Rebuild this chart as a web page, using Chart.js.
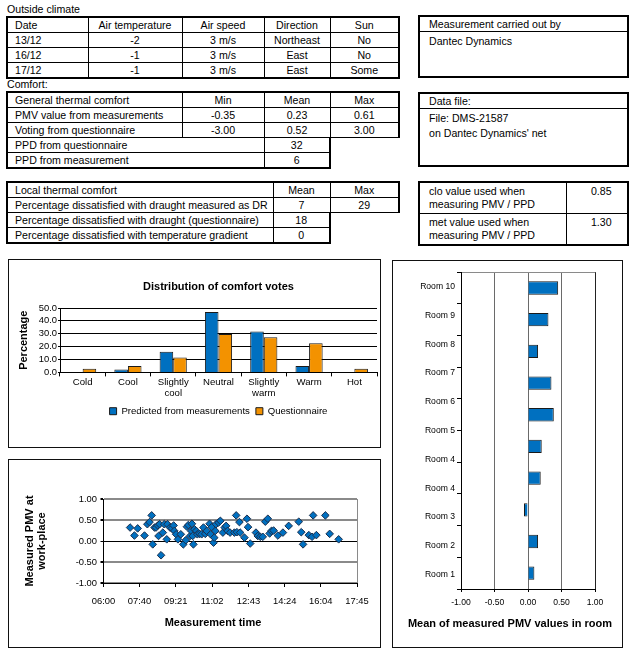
<!DOCTYPE html>
<html>
<head>
<meta charset="utf-8">
<script src="https://cdn.jsdelivr.net/npm/chart.js@4/dist/chart.umd.min.js"></script>
<style>
body{margin:0;width:631px;height:653px;position:relative;background:#fff;font-family:"Liberation Sans",Arial,sans-serif;font-size:10.6px;color:#000;overflow:hidden}
.lbl{position:absolute;left:7px;line-height:13px}
table{position:absolute;border-collapse:collapse;table-layout:fixed}
td{border:1px solid #000;height:14px;padding:0 0 0 7px;line-height:14px;white-space:nowrap;overflow:hidden}
td.c{text-align:center;padding:0}
tr:first-child td{border-top-width:2px}
tr:last-child td{border-bottom-width:2px}
td:first-child{border-left-width:2px}
td:last-child{border-right-width:2px}
.box{position:absolute;left:418px;width:211px;border:2px solid #000;box-sizing:border-box}
.box .hd{height:14px;line-height:14px;border-bottom:1px solid #000;padding-left:9px}
.box .bd{padding:2px 0 0 9px;line-height:15px}
.side td{vertical-align:top;line-height:12.5px;height:28px;padding:2px 0 0 9px}
.chart{position:absolute;border:1px solid #111}
canvas{display:block}
</style>
</head>
<body>
<div class="lbl" style="top:3px">Outside climate</div>
<div class="lbl" style="top:78px">Comfort:</div>
<div id="tables"></div>

<div class="box" style="top:15px;height:63px"><div class="hd">Measurement carried out by</div><div class="bd">Dantec Dynamics</div></div>
<div class="box" style="top:92px;height:75px"><div class="hd">Data file:</div><div class="bd">File: DMS-21587<br>on Dantec Dynamics' net</div></div>

<div class="chart" style="left:8px;top:259px;width:371px;height:187px"><canvas id="votes" width="371" height="187"></canvas></div>
<div class="chart" style="left:8px;top:459px;width:371px;height:187px"><canvas id="pmvTime" width="371" height="187"></canvas></div>
<div class="chart" style="left:392px;top:260px;width:229px;height:386px"><canvas id="rooms" width="229" height="386"></canvas></div>

<script>
// ---- tables ----
const climateRows = [
    ['Date', 'Air temperature', 'Air speed', 'Direction', 'Sun'],
    ['13/12', '-2', '3 m/s', 'Northeast', 'No'],
    ['16/12', '-1', '3 m/s', 'East', 'No'],
    ['17/12', '-1', '3 m/s', 'East', 'Some'],
];
const comfortRows = [
    ['General thermal comfort', 'Min', 'Mean', 'Max'],
    ['PMV value from measurements', '-0.35', '0.23', '0.61'],
    ['Voting from questionnaire', '-3.00', '0.52', '3.00'],
    [['PPD from questionnaire', 2], '32'],
    [['PPD from measurement', 2], '6'],
];
const localRows = [
    ['Local thermal comfort', 'Mean', 'Max'],
    ['Percentage dissatisfied with draught measured as DR', '7', '29'],
    ['Percentage dissatisfied with draught (questionnaire)', '18'],
    ['Percentage dissatisfied with temperature gradient', '0'],
];
const cloMetRows = [
    ['clo value used when<br>measuring PMV / PPD', '0.85'],
    ['met value used when<br>measuring PMV / PPD', '1.30'],
];

// ---- chart data ----
const voteCategories = ['Cold', 'Cool', ['Slightly', 'cool'], 'Neutral', ['Slightly', 'warm'], 'Warm', 'Hot'];
const predictedPct = [0, 2.3, 16.1, 46.9, 31.8, 4.9, 0];
const questionnairePct = [2.9, 4.9, 11.5, 29.9, 27.3, 22.7, 2.9];

const measureTimes = ['07:14','07:26','07:35','07:54','08:02','08:08','08:14','08:17','08:22','08:26',
    '08:31','08:33','08:36','08:40','08:45','08:49','08:56','08:58','09:05','09:10',
    '09:15','09:17','09:22','09:27','09:35','09:42','09:49','09:52','09:56','10:01',
    '10:04','10:06','10:08','10:10','10:13','10:18','10:21','10:27','10:33','10:38',
    '10:43','10:47','10:55','10:58','11:01','11:06','11:08','11:11','11:13','11:20',
    '11:25','11:32','11:37','11:41','11:45','11:52','12:04','12:09','12:11','12:18',
    '12:20','12:32','12:39','12:42','12:48','13:04','13:09','13:16','13:23','13:30',
    '13:37','13:42','13:47','13:53','14:05','14:19','14:35','15:03','15:10','15:15',
    '15:31','15:40','15:43','15:52','16:17','16:29','16:54'];
const measuredPMV = [0.32,0.13,0.30,0.13,0.40,0.45,0.61,-0.08,0.32,0.32,
    0.37,0.12,0.40,-0.34,0.20,0.40,0.04,0.40,0.32,0.30,
    0.37,0.24,0.16,0.04,0.16,-0.08,0.02,0.34,0.38,0.12,
    0.24,0.41,0.12,-0.08,0.28,0.24,0.16,0.17,0.16,0.32,
    0.17,0.24,0.41,0.16,0.33,-0.04,0.08,0.24,0.40,0.44,
    0.48,0.20,0.32,0.36,0.24,0.20,0.20,0.61,0.21,0.45,
    0.20,0.08,0.53,0.33,-0.06,0.20,0.12,0.10,0.10,0.46,
    0.53,0.18,0.24,0.25,0.13,0.20,0.36,0.46,0.21,-0.08,
    0.14,0.10,0.61,0.14,0.61,0.17,0.04];
const timeTicks = ['06:00', '07:40', '09:21', '11:02', '12:43', '14:24', '16:04', '17:45'];

const roomTickLabels = ['Room 10', 'Room 9', 'Room 8', 'Room 7', 'Room 6', 'Room 5', 'Room 4', 'Room 4', 'Room 3', 'Room 2', 'Room 1'];
const roomBars = ['Room 10', 'Room 9', 'Room 8', 'Room 7', 'Room 6', 'Room 5', 'Room 4', 'Room 3', 'Room 2', 'Room 1'];
const roomMeanPMV = [0.45, 0.305, 0.15, 0.35, 0.385, 0.205, 0.19, -0.06, 0.15, 0.095];
const pmvTicks = ['-1.00', '-0.50', '0.00', '0.50', '1.00'];

const BLUE = '#0070C0';
const ORANGE = '#F39200';

function makeTable(left, top, widths, rows, cls) {
    let html = '<table class="' + (cls || '') + '" style="left:' + left + 'px;top:' + top + 'px"><colgroup>';
    widths.forEach((w) => { html += '<col style="width:' + w + 'px">'; });
    html += '</colgroup>';
    rows.forEach((r) => {
        html += '<tr>';
        r.forEach((cell, i) => {
            let span = 1, text = cell;
            if (Array.isArray(cell)) { text = cell[0]; span = cell[1]; }
            html += '<td' + (span > 1 ? ' colspan="' + span + '"' : '') + (i > 0 ? ' class="c"' : '') + '>' + text + '</td>';
        });
        html += '</tr>';
    });
    return html + '</table>';
}

document.getElementById('tables').innerHTML =
    makeTable(6, 16, [81, 94, 82, 66, 69], climateRows) +
    makeTable(6, 91, [175, 82, 66, 69], comfortRows) +
    makeTable(6, 181, [266, 57, 69], localRows) +
    makeTable(418, 181, [147, 62], cloMetRows, 'side');

Chart.defaults.font.family = '"Liberation Sans", Arial, sans-serif';
Chart.defaults.color = '#000';
Chart.defaults.animation = false;

const toMin = (t) => { const p = t.split(':'); return +p[0] * 60 + +p[1]; };

// ---- distribution of comfort votes ----
new Chart(document.getElementById('votes'), {
    type: 'bar',
    data: {
        labels: voteCategories,
        datasets: [
            { label: 'Predicted from measurements', data: predictedPct, backgroundColor: BLUE, borderColor: '#1a1a1a', borderWidth: 1 },
            { label: 'Questionnaire', data: questionnairePct, backgroundColor: ORANGE, borderColor: '#1a1a1a', borderWidth: 1 },
        ],
    },
    options: {
        responsive: false,
        categoryPercentage: 0.6,
        barPercentage: 1,
        layout: { padding: { top: 10, bottom: 21, left: 0, right: 3 } },
        plugins: {
            title: {
                display: true, fullSize: false, text: 'Distribution of comfort votes',
                font: { size: 11, weight: 'bold' }, padding: { top: 10.4, bottom: 14.4 },
            },
            legend: {
                position: 'bottom', fullSize: false,
                labels: { boxWidth: 7, boxHeight: 7, padding: 6, font: { size: 9.6 } },
            },
            tooltip: { enabled: false },
        },
        scales: {
            x: {
                afterFit: (s) => { s.height = 28; },
                grid: { offset: true, color: (c) => (c.index === voteCategories.length ? '#000' : 'rgba(0,0,0,0)'), tickColor: '#000', tickLength: 4 },
                border: { color: '#000' },
                ticks: { padding: 1, font: { size: 9.6, lineHeight: 1.1 }, maxRotation: 0, autoSkip: false },
            },
            y: {
                min: 0, max: 50,
                afterFit: (s) => { s.width = 51; },
                grid: { color: '#000', tickLength: 2 },
                border: { color: '#000' },
                ticks: { stepSize: 10, autoSkip: false, padding: 1, font: { size: 9.4 }, callback: (v) => v.toFixed(1) },
                title: { display: true, text: 'Percentage', font: { size: 11, weight: 'bold' }, padding: { top: 8.4, bottom: 0 } },
            },
        },
    },
});

// ---- measured PMV over time ----
new Chart(document.getElementById('pmvTime'), {
    type: 'scatter',
    data: {
        datasets: [{
            data: measureTimes.map((t, i) => ({ x: toMin(t), y: measuredPMV[i] })),
            pointStyle: 'rectRot', pointRadius: 3.8,
            backgroundColor: BLUE, borderColor: '#1b2f4d', borderWidth: 1,
        }],
    },
    options: {
        responsive: false,
        layout: { padding: { top: 39, bottom: 13.4, left: 60, right: 23 } },
        plugins: {
            legend: { display: false },
            tooltip: { enabled: false },
            title: {
                display: true, position: 'bottom', text: 'Measurement time',
                font: { size: 11, weight: 'bold' }, padding: { top: 3.4, bottom: 4 },
            },
        },
        scales: {
            x: {
                type: 'linear', min: toMin(timeTicks[0]), max: toMin(timeTicks[timeTicks.length - 1]),
                afterFit: (s) => { s.height = 30; },
                afterBuildTicks: (s) => { s.ticks = timeTicks.map((t) => ({ value: toMin(t) })); },
                grid: { color: (c) => (c.index === timeTicks.length - 1 ? '#8a8a8a' : 'rgba(0,0,0,0)'), tickColor: '#000', tickLength: 4 },
                border: { color: '#000' },
                ticks: { padding: 8.4, font: { size: 9.4 }, maxRotation: 0, autoSkip: false, callback: (v, i) => timeTicks[i] },
            },
            y: {
                min: -1, max: 1,
                afterFit: (s) => { s.width = 34.5; },
                grid: {
                    color: (c) => (c.tick && c.tick.value === 0 ? '#000' : '#8a8a8a'),
                    lineWidth: (c) => (c.tick && c.tick.value === 0 ? 1 : 2),
                    tickColor: '#000', tickLength: 3,
                },
                border: { color: '#000' },
                ticks: { stepSize: 0.5, autoSkip: false, padding: 3.5, font: { size: 9.4 }, callback: (v) => v.toFixed(2) },
                title: {
                    display: true, text: ['Measured PMV at', 'work-place'],
                    font: { size: 11, weight: 'bold', lineHeight: 1.06 }, padding: { top: -44.8, bottom: 0 },
                },
            },
        },
    },
});

// ---- mean PMV per room ----
new Chart(document.getElementById('rooms'), {
    type: 'bar',
    data: {
        labels: roomBars,
        datasets: [{ data: roomMeanPMV, backgroundColor: BLUE, borderColor: '#1a1a1a', borderWidth: 1, xAxisID: 'x', yAxisID: 'y' }],
    },
    options: {
        responsive: false,
        indexAxis: 'y',
        barPercentage: 0.42,
        categoryPercentage: 1,
        layout: { padding: { top: 7, bottom: 12.4, left: 5, right: 0 } },
        plugins: {
            legend: { display: false },
            tooltip: { enabled: false },
            title: {
                display: true, position: 'bottom', text: 'Mean of measured PMV values in room',
                font: { size: 11, weight: 'bold' }, padding: { top: 2.4, bottom: 4 },
            },
        },
        scales: {
            x: {
                min: -1, max: 1,
                afterFit: (s) => { s.height = 26; },
                grid: {
                    color: (c) => (c.tick && c.tick.value === 1 ? '#222' : '#6a6a6a'),
                    tickColor: '#000', tickLength: 3,
                },
                border: { color: '#000' },
                ticks: { stepSize: 0.5, autoSkip: false, padding: 5.8, font: { size: 8.6 }, callback: (v, i) => pmvTicks[i] },
            },
            y: {
                position: 'left',
                afterFit: (s) => { s.width = 0; },
                grid: { offset: true, color: (c) => (c.index === 0 ? '#8a8a8a' : 'rgba(0,0,0,0)'), tickColor: '#000', tickLength: 4 },
                border: { color: '#000' },
                ticks: { display: false },
            },
            y2: {
                type: 'category', position: 'left', labels: roomTickLabels, offset: true,
                afterFit: (s) => { s.width = 63; },
                grid: { display: false, drawTicks: false },
                border: { display: false },
                ticks: { padding: 6, font: { size: 8.6 }, autoSkip: false },
            },
            // empty right-hand margin so the plot ends where the reference does
            yRight: {
                type: 'category', position: 'right', labels: roomBars,
                afterFit: (s) => { s.width = 27; },
                grid: { display: false, drawTicks: false },
                border: { display: false },
                ticks: { display: false },
            },
        },
    },
});
</script>
</body>
</html>
